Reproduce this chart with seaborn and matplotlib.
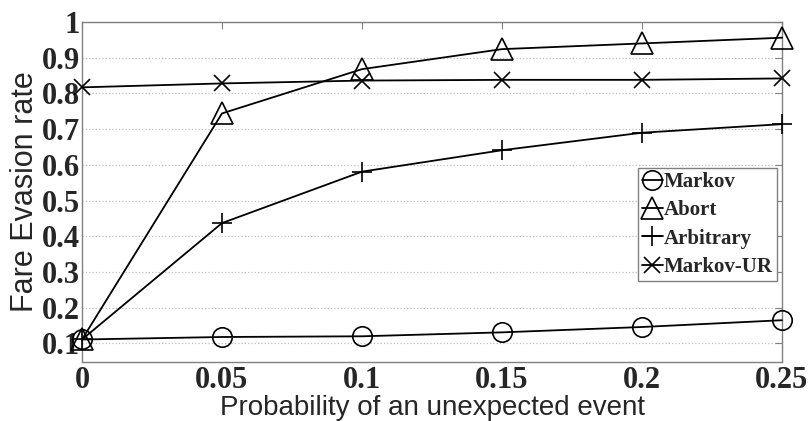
import matplotlib
matplotlib.use("Agg")
import matplotlib.pyplot as plt
import numpy as np
import pandas as pd
import seaborn as sns

# data
prob = [0, 0.05, 0.1, 0.15, 0.2, 0.25]
markov = [0.111, 0.118, 0.120, 0.131, 0.146, 0.165]
abort = [0.111, 0.744, 0.868, 0.924, 0.940, 0.956]
arbitrary = [0.111, 0.437, 0.581, 0.641, 0.690, 0.714]
markov_ur = [0.817, 0.828, 0.836, 0.838, 0.838, 0.842]
names = ["Markov", "Abort", "Arbitrary", "Markov-UR"]
xtick_labels = ["0", "0.05", "0.1", "0.15", "0.2", "0.25"]
yticks = [0.1, 0.2, 0.3, 0.4, 0.5, 0.6, 0.7, 0.8, 0.9, 1.0]
ytick_labels = ["0.1", "0.2", "0.3", "0.4", "0.5", "0.6", "0.7", "0.8", "0.9", "1"]

sns.set_style("white")
plt.rcParams['font.family'] = ['Liberation Serif', 'DejaVu Serif']

fig = plt.figure(figsize=(8.11, 4.21), dpi=100)
ax = fig.add_axes([82 / 811, 59 / 421, 700 / 811, 340 / 421])

series = [markov, abort, arbitrary, markov_ur]
marks = ["o", "^", "+", "x"]
sizes = [14, 16, 15, 11]
for name, vals, mk, ms in zip(names, series, marks, sizes):
    sns.lineplot(x=prob, y=vals, ax=ax, color="black", lw=1.3, marker=mk,
                 markersize=ms, markerfacecolor="none", markeredgecolor="black",
                 markeredgewidth=1.2, label=name, clip_on=False, zorder=3)

ax.set_xlim(0, 0.25)
ax.set_ylim(0.048, 1.0)
ax.set_xticks(prob)
ax.set_xticklabels(xtick_labels)
ax.set_yticks(yticks)
ax.set_yticklabels(ytick_labels)
ax.tick_params(direction="in", top=True, right=True, length=5, color="#808080",
               labelsize=22)
for lab in ax.get_xticklabels() + ax.get_yticklabels():
    lab.set_fontweight("bold")
ax.tick_params(axis="x", pad=3)
ax.tick_params(axis="y", pad=1.5)
for sp in ax.spines.values():
    sp.set_color("#808080")
    sp.set_linewidth(1.0)
ax.yaxis.grid(True, linestyle=":", color="#c0c0c0", lw=0.9)
ax.xaxis.grid(False)

ax.set_xlabel("Probability of an unexpected event", fontsize=20,
              family=["Liberation Sans", "DejaVu Sans"], labelpad=0)
ax.set_ylabel("Fare Evasion rate", fontsize=22,
              family=["Liberation Sans", "DejaVu Sans"], labelpad=1)

leg = ax.legend(loc="upper right", bbox_to_anchor=(0.993, 0.571), borderaxespad=0,
                prop={"family": "Liberation Serif", "weight": "bold", "size": 15},
                handlelength=1.0, handletextpad=0.05, borderpad=0.2,
                labelspacing=0.4, fancybox=False, framealpha=1,
                edgecolor="#808080")
leg.get_frame().set_linewidth(1.0)

fig.savefig("out.png", dpi=100)
